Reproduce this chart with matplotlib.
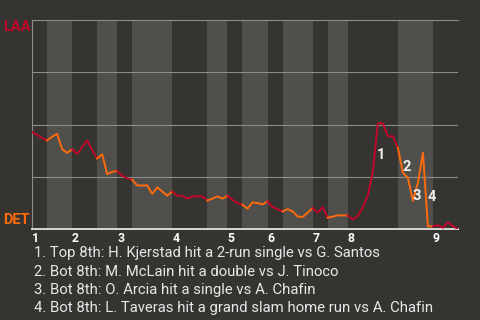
import numpy as np
import matplotlib.pyplot as plt

# LAA win probability (%) after each plate appearance
laa_wp = [46.5, 45.1, 43.7, 42.4, 44.2, 45.6, 38.3, 36.5, 38.2, 36.0,
          39.1, 42.4, 37.9, 33.8, 35.8, 26.3, 27.4, 27.9, 25.5, 24.3,
          23.6, 20.9, 20.9, 20.9, 16.9, 20.0, 18.0, 16.0, 18.0, 16.0,
          16.0, 14.6, 15.7, 15.7, 15.7, 13.7, 14.6, 15.7, 14.6, 16.0,
          14.1, 12.5, 11.7, 9.8, 12.8, 12.5, 11.9, 13.3, 10.6, 9.6,
          8.5, 9.6, 8.5, 6.1, 5.8, 7.9, 10.1, 7.9, 10.5, 5.5,
          6.0, 6.6, 6.6, 6.6, 4.7, 6.4, 10.3, 16.0, 27.4, 50.6,
          50.6, 44.5, 44.4, 38.9, 27.0, 24.6, 13.6, 22.2, 36.5, 1.4,
          1.4, 1.9, 0.7, 3.3, 1.4, 0.0]

# last plate appearance index of each half inning (top 1st, bot 1st, ...)
half_ends = [3, 8, 13, 17, 20, 28, 35, 39, 42, 47, 50, 56, 59, 63, 73, 80, 85]
inning_labels = ['1', '2', '3', '4', '5', '6', '7', '8', '9']

# key plays: index of the plate appearance and the description
key_idx = [69, 74, 76, 79]
key_text = ['1. Top 8th: H. Kjerstad hit a 2-run single vs G. Santos',
            '2. Bot 8th: M. McLain hit a double vs J. Tinoco',
            '3. Bot 8th: O. Arcia hit a single vs A. Chafin',
            '4. Bot 8th: L. Taveras hit a grand slam home run vs A. Chafin']

bg = '#363431'
band = '#504f4c'
red = '#c0062a'
orange = '#ff6a0a'

plt.rcParams['font.family'] = ['Roboto', 'DejaVu Sans']

fig = plt.figure(figsize=(4.8, 3.2), dpi=100, facecolor=bg)
ax = fig.add_axes([32/480, 1 - 229.2/320, 426/480, 209.2/320])
ax.set_facecolor(bg)

wp = np.array(laa_wp) / 100
x = np.arange(len(wp))

starts = [0] + half_ends[:-1]
for k, (s, e) in enumerate(zip(starts, half_ends)):
    if k % 2 == 1:
        ax.axvspan(s, e, color=band, lw=0, zorder=0)
    ax.plot(x[s:e + 1], wp[s:e + 1], color=red if k % 2 == 0 else orange,
            lw=1.4, zorder=3, solid_joinstyle='round')

for n, i in enumerate(key_idx):
    ax.annotate(str(n + 1), ((i - 0.5), (wp[i - 1] + wp[i]) / 2),
                xytext=(4.3, -5), textcoords='offset points',
                ha='center', va='center', color='#f0f0f0',
                fontsize=10.5, fontweight='bold', zorder=4)

ax.set_xlim(0, len(wp) - 1)
ax.set_ylim(0, 1)
ax.set_yticks([0.25, 0.5, 0.75])
ax.yaxis.grid(True, color='#8c8c8c', lw=0.8)
for ln in ax.get_ygridlines():
    ln.set_zorder(1)
ax.tick_params(left=False, labelleft=False, bottom=False)

inning_starts = [0] + half_ends[1::2][:8]
ax.set_xticks(inning_starts)
ax.set_xticklabels(inning_labels, ha='left', color='white',
                   fontsize=8.8, fontweight='bold')
ax.tick_params(axis='x', pad=-1.5)

ax.spines['right'].set_visible(False)
ax.spines['top'].set_color('#8c8c8c')
ax.spines['left'].set_color('#8c8c8c')
ax.spines['bottom'].set_color('#d8d8d8')
ax.spines['top'].set_linewidth(0.8)
ax.spines['left'].set_linewidth(0.8)
ax.spines['bottom'].set_linewidth(1.4)

fig.text(3/480, 1 - 31/320, 'LAA', color=red, fontsize=10.5,
         fontweight='bold', va='baseline')
fig.text(3/480, 1 - 224/320, 'DET', color=orange, fontsize=10.5,
         fontweight='bold', va='baseline')

for n, t in enumerate(key_text):
    fig.text(34/480, 1 - (257.5 + 18.1 * n)/320, t, color='#e8e8e8',
             fontsize=10.7, va='baseline')

fig.savefig('out.png', dpi=100, facecolor=bg)
